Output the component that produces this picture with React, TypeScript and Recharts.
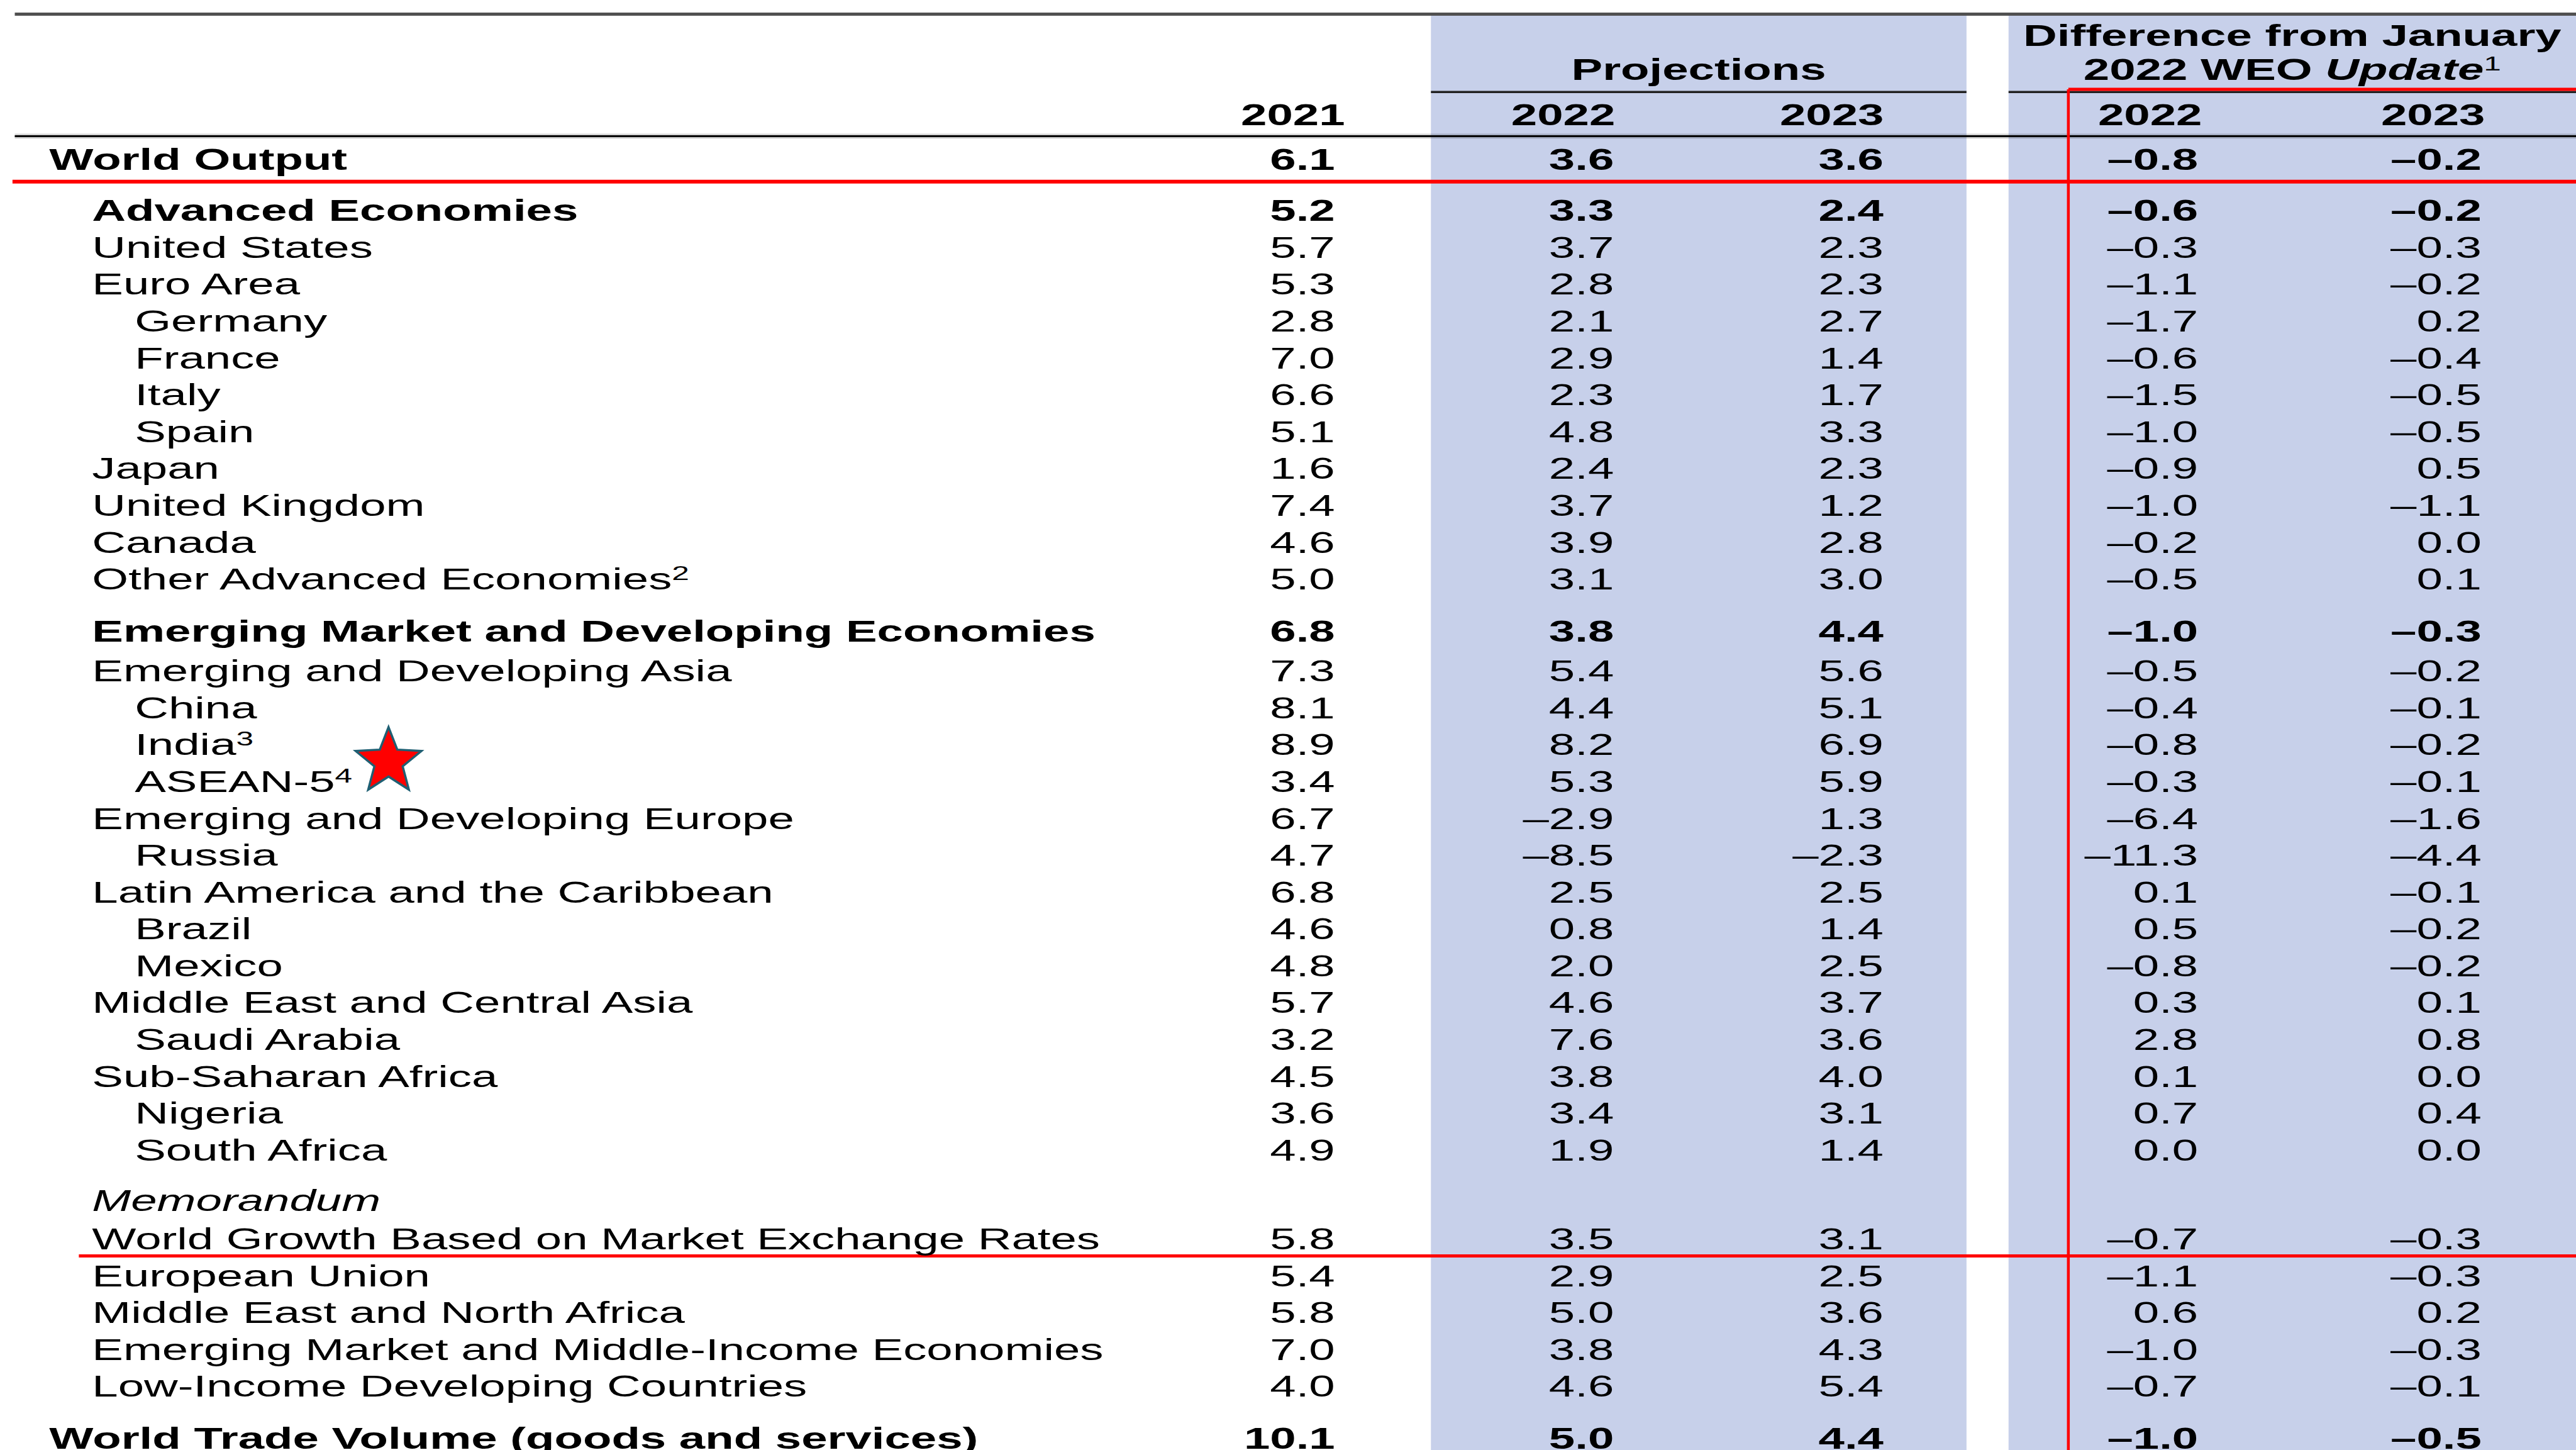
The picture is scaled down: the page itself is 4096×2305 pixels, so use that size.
import { ScatterChart, Scatter, XAxis, YAxis, ReferenceArea, ReferenceLine } from "recharts";

// ---- table data ----
const rowLabels = [
  "World Output",
  "Advanced Economies",
  "United States",
  "Euro Area",
  "Germany",
  "France",
  "Italy",
  "Spain",
  "Japan",
  "United Kingdom",
  "Canada",
  "Other Advanced Economies",
  "Emerging Market and Developing Economies",
  "Emerging and Developing Asia",
  "China",
  "India",
  "ASEAN-5",
  "Emerging and Developing Europe",
  "Russia",
  "Latin America and the Caribbean",
  "Brazil",
  "Mexico",
  "Middle East and Central Asia",
  "Saudi Arabia",
  "Sub-Saharan Africa",
  "Nigeria",
  "South Africa",
  "Memorandum",
  "World Growth Based on Market Exchange Rates",
  "European Union",
  "Middle East and North Africa",
  "Emerging Market and Middle-Income Economies",
  "Low-Income Developing Countries",
  "World Trade Volume (goods and services)",
];

// footnote marks shown as superscripts
const rowNotes: Record<string, string> = {
  "Other Advanced Economies": "2",
  India: "3",
  "ASEAN-5": "4",
};

const growth2021 = [6.1, 5.2, 5.7, 5.3, 2.8, 7.0, 6.6, 5.1, 1.6, 7.4, 4.6, 5.0, 6.8, 7.3, 8.1, 8.9, 3.4, 6.7, 4.7, 6.8, 4.6, 4.8, 5.7, 3.2, 4.5, 3.6, 4.9, null, 5.8, 5.4, 5.8, 7.0, 4.0, 10.1];
const proj2022 = [3.6, 3.3, 3.7, 2.8, 2.1, 2.9, 2.3, 4.8, 2.4, 3.7, 3.9, 3.1, 3.8, 5.4, 4.4, 8.2, 5.3, -2.9, -8.5, 2.5, 0.8, 2.0, 4.6, 7.6, 3.8, 3.4, 1.9, null, 3.5, 2.9, 5.0, 3.8, 4.6, 5.0];
const proj2023 = [3.6, 2.4, 2.3, 2.3, 2.7, 1.4, 1.7, 3.3, 2.3, 1.2, 2.8, 3.0, 4.4, 5.6, 5.1, 6.9, 5.9, 1.3, -2.3, 2.5, 1.4, 2.5, 3.7, 3.6, 4.0, 3.1, 1.4, null, 3.1, 2.5, 3.6, 4.3, 5.4, 4.4];
const diff2022 = [-0.8, -0.6, -0.3, -1.1, -1.7, -0.6, -1.5, -1.0, -0.9, -1.0, -0.2, -0.5, -1.0, -0.5, -0.4, -0.8, -0.3, -6.4, -11.3, 0.1, 0.5, -0.8, 0.3, 2.8, 0.1, 0.7, 0.0, null, -0.7, -1.1, 0.6, -1.0, -0.7, -1.0];
const diff2023 = [-0.2, -0.2, -0.3, -0.2, 0.2, -0.4, -0.5, -0.5, 0.5, -1.1, 0.0, 0.1, -0.3, -0.2, -0.1, -0.2, -0.1, -1.6, -4.4, -0.1, -0.2, -0.2, 0.1, 0.8, 0.0, 0.4, 0.0, null, -0.3, -0.3, 0.2, -0.3, -0.1, -0.5];

const yearLabels = ["2021", "2022", "2023", "2022", "2023"];

// ---- layout (layout units: 1568 x 882 across the whole picture) ----
const W = 4096;
const H = 2305;
const UX = 1568;
const UY = 882;
const FONT = '"Liberation Sans", Arial, Helvetica, sans-serif';
const FS = 48;
const SX = 1.55; // the source glyphs are stretched horizontally
const BAND = "#C7D0EA";
const RED = "#FF0000";

const level2 = new Set(["Germany", "France", "Italy", "Spain", "China", "India", "ASEAN-5", "Russia", "Brazil", "Mexico", "Saudi Arabia", "Nigeria", "South Africa"]);
const level0 = new Set(["World Output", "World Trade Volume (goods and services)"]);
const boldRows = new Set(["World Output", "Advanced Economies", "Emerging Market and Developing Economies", "World Trade Volume (goods and services)"]);
const italicRows = new Set(["Memorandum"]);
const indentX = [30, 56, 82];

const ROW0 = 103.2;
const PITCH = 22.42;
const extraBefore: Record<number, number> = { 1: 8.8, 12: 9.2, 13: 1.8, 27: 8.2, 28: 1, 33: 9 };

const rowY: number[] = [];
{
  let acc = 0;
  rowLabels.forEach((_, i) => {
    acc += extraBefore[i] || 0;
    rowY.push(ROW0 + i * PITCH + acc);
  });
}

const colRight = [812.6, 982.4, 1146.5, 1338, 1510.5];
const colCenter = [787, 951.5, 1115, 1308.7, 1481];
const band1 = [871, 1197];
const band2 = [1222.6, UX];

type Part = { t: string; italic?: boolean; sup?: boolean };
type Cell = { x: number; y: number; parts: Part[]; anchor: "start" | "middle" | "end"; bold?: boolean; italic?: boolean };

const fmt = (v: number) => (v < 0 ? "\u2013" : "") + Math.abs(v).toFixed(1);

const labelCells: Cell[] = rowLabels.map((label, i) => ({
  x: indentX[level0.has(label) ? 0 : level2.has(label) ? 2 : 1],
  y: rowY[i],
  parts: rowNotes[label] ? [{ t: label }, { t: rowNotes[label], sup: true }] : [{ t: label }],
  anchor: "start",
  bold: boldRows.has(label),
  italic: italicRows.has(label),
}));

const columns = [growth2021, proj2022, proj2023, diff2022, diff2023];
const valueCells: Cell[] = [];
columns.forEach((series, c) => {
  series.forEach((v, i) => {
    if (v === null) return;
    valueCells.push({ x: colRight[c], y: rowY[i], parts: [{ t: fmt(v) }], anchor: "end", bold: boldRows.has(rowLabels[i]) });
  });
});

const headerCells: Cell[] = [
  { x: (band1[0] + band1[1]) / 2, y: 48.5, parts: [{ t: "Projections" }], anchor: "middle", bold: true },
  { x: (band2[0] + band2[1]) / 2, y: 28, parts: [{ t: "Difference from January" }], anchor: "middle", bold: true },
  {
    x: (band2[0] + band2[1]) / 2,
    y: 48.5,
    parts: [{ t: "2022 WEO " }, { t: "Update", italic: true }, { t: "1", sup: true }],
    anchor: "middle",
    bold: true,
  },
  ...yearLabels.map((t, c) => ({ x: colCenter[c], y: 76.3, parts: [{ t }], anchor: "middle" as const, bold: true })),
];

// star marker between India and ASEAN-5
const starPoint = [{ x: 236.5, y: (rowY[15] + rowY[16]) / 2 - 7.2 }];

function TextCell(props: any) {
  const { cx, cy, payload } = props;
  const c: Cell = payload;
  return (
    <text
      transform={`translate(${cx},${cy}) scale(${SX},1)`}
      textAnchor={c.anchor}
      fontFamily={FONT}
      fontSize={FS}
      fontWeight={c.bold ? 700 : 400}
      fontStyle={c.italic ? "italic" : "normal"}
      fill="#000"
    >
      {c.parts.map((p, k) => {
        const prevSup = k > 0 && c.parts[k - 1].sup;
        return (
          <tspan
            key={k}
            fontSize={p.sup ? 32 : FS}
            fontStyle={p.italic || c.italic ? "italic" : "normal"}
            fontWeight={p.sup ? 400 : undefined}
            dy={p.sup ? -15 : prevSup ? 15 : 0}
          >
            {p.t}
          </tspan>
        );
      })}
    </text>
  );
}

function StarShape(props: any) {
  const { cx, cy } = props;
  const R = 55;
  const r = R * 0.43;
  const pts: string[] = [];
  for (let k = 0; k < 10; k++) {
    const rad = k % 2 === 0 ? R : r;
    const a = -Math.PI / 2 + (k * Math.PI) / 5;
    pts.push(`${cx + rad * Math.cos(a)},${cy + rad * Math.sin(a)}`);
  }
  return <polygon points={pts.join(" ")} fill={RED} stroke="#1F5F73" strokeWidth={3.5} strokeLinejoin="miter" />;
}

export default function App() {
  return (
    <div style={{ position: "absolute", left: 0, top: 0, width: W, height: H, background: "#fff" }}>
      <ScatterChart width={W} height={H} margin={{ top: 0, right: 0, bottom: 0, left: 0 }}>
        <XAxis type="number" dataKey="x" domain={[0, UX]} allowDataOverflow hide />
        <YAxis type="number" dataKey="y" domain={[0, UY]} allowDataOverflow reversed hide />

        <ReferenceArea x1={band1[0]} x2={band1[1]} y1={8.4} y2={UY} fill={BAND} fillOpacity={1} stroke="none" ifOverflow="visible" />
        <ReferenceArea x1={band2[0]} x2={band2[1]} y1={8.4} y2={UY} fill={BAND} fillOpacity={1} stroke="none" ifOverflow="visible" />

        {/* rules */}
        <ReferenceLine segment={[{ x: 9, y: 8.6 }, { x: UX, y: 8.6 }]} stroke="#505050" strokeWidth={5} ifOverflow="visible" />
        <ReferenceLine segment={[{ x: band1[0], y: 56 }, { x: band1[1], y: 56 }]} stroke="#222" strokeWidth={3.5} ifOverflow="visible" />
        <ReferenceLine segment={[{ x: band2[0], y: 56 }, { x: UX, y: 56 }]} stroke="#222" strokeWidth={3.5} ifOverflow="visible" />
        <ReferenceLine segment={[{ x: 9, y: 82.8 }, { x: UX, y: 82.8 }]} stroke="rgba(0,0,0,0.17)" strokeWidth={8} ifOverflow="visible" />
        <ReferenceLine segment={[{ x: 9, y: 82.8 }, { x: UX, y: 82.8 }]} stroke="#000" strokeWidth={3} ifOverflow="visible" />

        {/* red highlight lines */}
        <ReferenceLine segment={[{ x: 7.6, y: 110.5 }, { x: UX, y: 110.5 }]} stroke={RED} strokeWidth={6} ifOverflow="visible" />
        <ReferenceLine segment={[{ x: 48, y: 764 }, { x: UX, y: 764 }]} stroke={RED} strokeWidth={5} ifOverflow="visible" />
        <ReferenceLine segment={[{ x: 1259, y: 54.3 }, { x: 1259, y: UY }]} stroke={RED} strokeWidth={4.5} ifOverflow="visible" />
        <ReferenceLine segment={[{ x: 1259, y: 54.3 }, { x: UX, y: 54.3 }]} stroke={RED} strokeWidth={5} ifOverflow="visible" />

        <Scatter data={headerCells} shape={(p: any) => <TextCell {...p} />} isAnimationActive={false} />
        <Scatter data={labelCells} shape={(p: any) => <TextCell {...p} />} isAnimationActive={false} />
        <Scatter data={valueCells} shape={(p: any) => <TextCell {...p} />} isAnimationActive={false} />
        <Scatter data={starPoint} shape={(p: any) => <StarShape {...p} />} isAnimationActive={false} />
      </ScatterChart>
    </div>
  );
}
